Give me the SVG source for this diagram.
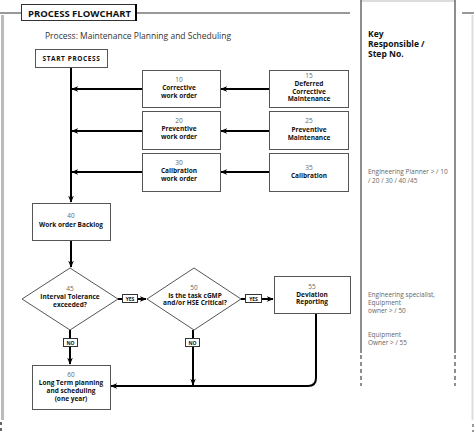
<svg xmlns="http://www.w3.org/2000/svg" width="474" height="432" viewBox="0 0 474 432">
<defs>
<marker id="arr" viewBox="0 0 10 10" refX="9" refY="5" markerWidth="7" markerHeight="7" markerUnits="userSpaceOnUse" orient="auto">
<path d="M0,1 L10,5 L0,9 L3,5 z" fill="#000"/>
</marker>
<style>
.box{fill:#fff;stroke:#555;stroke-width:1}
.num{font-family:"Open Sans","Noto Sans",sans-serif;font-size:6.5px;fill:#666;text-anchor:middle}
.lbl{font-family:"Open Sans","Noto Sans",sans-serif;font-size:6.5px;font-weight:bold;fill:#111;text-anchor:middle}
.con{fill:none;stroke:#000;stroke-width:2}
.tag{fill:#fff;stroke:#333;stroke-width:1}
.tagt{font-family:"Open Sans","Noto Sans",sans-serif;font-size:5px;font-weight:bold;fill:#111;text-anchor:middle}
.key{font-family:"Open Sans","Noto Sans",sans-serif;font-size:6.5px;fill:#666}
.keyh{font-family:"Open Sans","Noto Sans",sans-serif;font-size:8.5px;font-weight:bold;fill:#111}
</style>
</defs>
<rect width="474" height="432" fill="#fff"/>
<g id="frame">
<line x1="2.5" y1="15" x2="2.5" y2="420" stroke="#bbb" stroke-width="3"/>
<line x1="1" y1="422" x2="1" y2="432" stroke="#333" stroke-width="1.5" stroke-dasharray="3,3"/>
<line x1="472.5" y1="15" x2="472.5" y2="420" stroke="#ddd" stroke-width="2"/>
<line x1="473" y1="424" x2="473" y2="432" stroke="#333" stroke-width="1" stroke-dasharray="3,3"/>
<line x1="0" y1="13" x2="21" y2="13" stroke="#333" stroke-width="1"/>
<line x1="136" y1="13" x2="350" y2="13" stroke="#333" stroke-width="1"/>
<line x1="462" y1="13" x2="474" y2="13" stroke="#333" stroke-width="1"/>
</g>
<g id="title">
<rect x="21.5" y="4.5" width="114" height="16" fill="#fff" stroke="#333" stroke-width="1"/>
<line x1="136" y1="4" x2="136" y2="21" stroke="#000" stroke-width="2"/>
<text x="28" y="16.5" font-family="'Open Sans','Noto Sans',sans-serif" font-size="9.5" font-weight="bold" fill="#111">PROCESS FLOWCHART</text>
<text x="45" y="38.5" font-family="'Open Sans','Noto Sans',sans-serif" font-size="8.5" fill="#333">Process: Maintenance Planning and Scheduling</text>
</g>
<g id="keycol">
<rect x="361" y="0" width="94" height="2" fill="#ddd"/>
<line x1="361" y1="0" x2="361" y2="353" stroke="#444" stroke-width="1.2"/>
<line x1="455" y1="0" x2="455" y2="353" stroke="#444" stroke-width="1.2"/>
<line x1="361" y1="355" x2="361" y2="386" stroke="#444" stroke-width="1.2" stroke-dasharray="4,3"/>
<line x1="455" y1="355" x2="455" y2="386" stroke="#444" stroke-width="1.2" stroke-dasharray="4,3"/>
<text class="keyh" x="368" y="36.5">Key</text>
<text class="keyh" x="368" y="46.5">Responsible /</text>
<text class="keyh" x="368" y="56.5">Step No.</text>
<text class="key"><tspan x="368" y="174">Engineering Planner &gt; / 10</tspan><tspan x="368" y="183">/ 20 / 30 / 40 /45</tspan></text>
<text class="key"><tspan x="368" y="297">Engineering specialist,</tspan><tspan x="368" y="305">Equipment</tspan><tspan x="368" y="313">owner &gt; / 50</tspan></text>
<text class="key"><tspan x="368" y="337">Equipment</tspan><tspan x="368" y="345">Owner &gt; / 55</tspan></text>
</g>
<g id="connectors">
<path class="con" d="M71,67 V202" marker-end="url(#arr)"/>
<path class="con" d="M142,89 H72" marker-end="url(#arr)"/>
<path class="con" d="M142,131 H72" marker-end="url(#arr)"/>
<path class="con" d="M142,172 H72" marker-end="url(#arr)"/>
<path class="con" d="M269,89 H221" marker-end="url(#arr)"/>
<path class="con" d="M269,131 H221" marker-end="url(#arr)"/>
<path class="con" d="M269,172 H221" marker-end="url(#arr)"/>
<path class="con" d="M71,240 V267" marker-end="url(#arr)"/>
<path class="con" d="M118,299 H146" marker-end="url(#arr)"/>
<path class="con" d="M241,299 H273" marker-end="url(#arr)"/>
<path class="con" d="M70,330 V364" marker-end="url(#arr)"/>
<path class="con" d="M193,330 V385" marker-end="url(#arr)"/>
<path class="con" d="M316,313 V378 Q316,386 308,386 H111" marker-end="url(#arr)"/>
<rect class="tag" x="122.5" y="294.5" width="15" height="8"/>
<text class="tagt" x="130" y="300.5">YES</text>
<rect class="tag" x="245.5" y="294.5" width="16" height="8"/>
<text class="tagt" x="253.5" y="300.5">YES</text>
<rect class="tag" x="63.5" y="338.5" width="14" height="8"/>
<text class="tagt" x="70.5" y="344.5">NO</text>
<rect class="tag" x="185.5" y="338.5" width="14" height="8"/>
<text class="tagt" x="192.5" y="344.5">NO</text>
</g>
<g id="start">
<rect class="box" x="35.5" y="49.5" width="72" height="18"/>
<text class="lbl" x="71.5" y="61" style="letter-spacing:0.6px">START PROCESS</text>
</g>
<g id="n10">
<rect class="box" x="142.5" y="70.5" width="78" height="37"/>
<text class="num" x="179" y="82">10</text>
<text class="lbl"><tspan x="179" y="90">Corrective</tspan><tspan x="179" y="97.5">work order</tspan></text>
</g>
<g id="n20">
<rect class="box" x="142.5" y="111.5" width="78" height="38"/>
<text class="num" x="179" y="123">20</text>
<text class="lbl"><tspan x="179" y="131">Preventive</tspan><tspan x="179" y="138.5">work order</tspan></text>
</g>
<g id="n30">
<rect class="box" x="142.5" y="153.5" width="78" height="38"/>
<text class="num" x="179" y="165">30</text>
<text class="lbl"><tspan x="179" y="173">Calibration</tspan><tspan x="179" y="180.5">work order</tspan></text>
</g>
<g id="n15">
<rect class="box" x="269.5" y="70.5" width="79" height="37"/>
<text class="num" x="309" y="78">15</text>
<text class="lbl"><tspan x="309" y="86">Deferred</tspan><tspan x="309" y="93.5">Corrective</tspan><tspan x="309" y="101">Maintenance</tspan></text>
</g>
<g id="n25">
<rect class="box" x="269.5" y="111.5" width="79" height="38"/>
<text class="num" x="309" y="123">25</text>
<text class="lbl"><tspan x="309" y="132">Preventive</tspan><tspan x="309" y="139.5">Maintenance</tspan></text>
</g>
<g id="n35">
<rect class="box" x="269.5" y="153.5" width="79" height="38"/>
<text class="num" x="309" y="170">35</text>
<text class="lbl" x="309" y="178">Calibration</text>
</g>
<g id="n40">
<rect class="box" x="32.5" y="203.5" width="78" height="37"/>
<text class="num" x="71" y="218">40</text>
<text class="lbl" x="71" y="227">Work order Backlog</text>
</g>
<g id="n45">
<polygon class="box" points="70,268 118,299 70,330 22,299"/>
<text class="num" x="70" y="291">45</text>
<text class="lbl"><tspan x="70" y="299">Interval Tolerance</tspan><tspan x="70" y="306.5">exceeded?</tspan></text>
</g>
<g id="n50">
<polygon class="box" points="194,268 241,299 194,330 147,299"/>
<text class="num" x="194" y="290">50</text>
<text class="lbl"><tspan x="195" y="297.5">Is the task cGMP</tspan><tspan x="195" y="305">and/or HSE Critical?</tspan></text>
</g>
<g id="n55">
<rect class="box" x="274.5" y="276.5" width="76" height="37"/>
<text class="num" x="312" y="289">55</text>
<text class="lbl"><tspan x="312" y="296.5">Deviation</tspan><tspan x="312" y="304">Reporting</tspan></text>
</g>
<g id="n60">
<rect class="box" x="32.5" y="365.5" width="78" height="44"/>
<text class="num" x="71" y="377">60</text>
<text class="lbl"><tspan x="71" y="385">Long Term planning</tspan><tspan x="71" y="393">and scheduling</tspan><tspan x="71" y="401">(one year)</tspan></text>
</g>
</svg>
